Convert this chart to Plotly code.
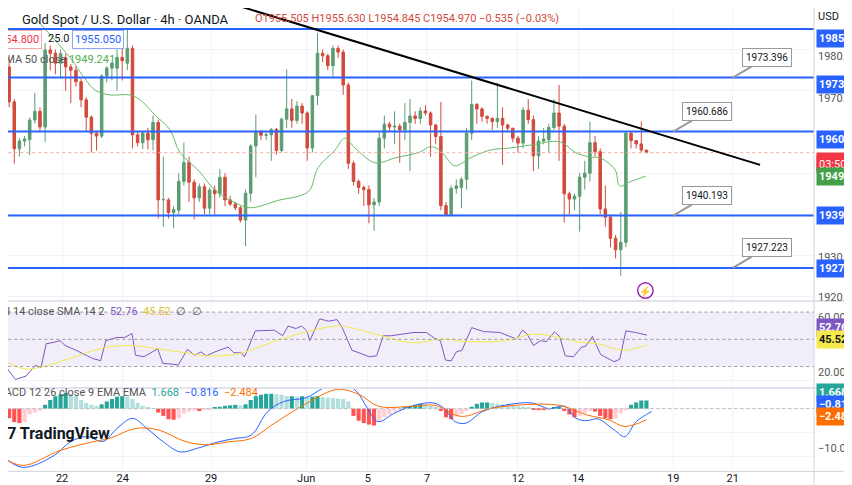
import plotly.graph_objects as go

ohlc = [
(1980.6,1981.5,1973.3,1975.8),(1975.8,1978.7,1966,1967.3),(1967.3,1968,1952.3,1955.9),(1955.9,1958.5,1954,1957.8),
(1957.8,1959,1956.5,1958.3),(1958.1,1963.5,1954.4,1962.9),(1962.9,1969.5,1962,1965),(1965,1966,1960,1961.2),
(1961.2,1981.6,1957.6,1979.9),(1979.9,1981,1975,1979.1),(1979.1,1980,1974,1976.7),(1976.7,1980,1973,1979),
(1978,1979,1970,1975.8),(1975.8,1976.5,1967,1975),(1975,1976,1971,1972.2),(1972.2,1973,1966,1967.8),
(1967.8,1968.5,1960,1963.6),(1963.6,1964,1955,1959.7),(1959.7,1960,1955.5,1959),(1959,1974,1958.5,1973.6),
(1973.6,1976,1972,1975.5),(1975.5,1977,1972.5,1976.7),(1975.5,1980,1970,1978.1),(1978.1,1982,1972.5,1977.3),
(1976.7,1985,1975,1980.3),(1980.3,1981,1956,1959.3),(1959.3,1960,1956.5,1957.4),(1957.4,1960,1955.8,1959.7),
(1959.7,1961,1955.8,1958.1),(1958.1,1964,1955.5,1962.3),(1962.3,1963,1939,1943.5),(1943.5,1954,1937,1943.6),
(1943.5,1944,1939,1940.4),(1940.4,1942,1936.6,1941.2),(1941,1950,1940,1948),(1948,1957.4,1947,1952.6),
(1952.6,1954,1943,1947.8),(1947.8,1948.5,1938.8,1944),(1944,1947.5,1943,1946.7),(1946.7,1947.5,1940,1941.5),
(1941.5,1946.5,1940,1945.9),(1945.9,1947,1940,1945),(1945,1951,1944,1949),(1949,1950,1942,1943.5),
(1943.5,1944.5,1942,1942.5),(1942.5,1943,1941,1941.6),(1941.6,1942,1938,1938.6),(1938.6,1946,1932.3,1945.1),
(1945.1,1957,1943,1956.6),(1956.6,1964.2,1949,1960.1),(1960.1,1960.5,1958,1959.2),(1959.2,1960,1958,1959.3),
(1959.3,1961,1953,1960.6),(1960.6,1961,1954.5,1955.5),(1955.5,1963.5,1955,1963.1),(1963.1,1975.2,1961,1965.6),
(1965.6,1968,1961,1962.8),(1962.8,1967.5,1962,1966.3),(1966.3,1967,1962,1964.6),(1964.6,1965,1953,1956.1),
(1956.1,1969,1955,1968.8),(1968.8,1984,1966.5,1979.1),(1979.1,1980,1977,1978.5),(1978.5,1979,1975,1976.1),
(1976.1,1981,1973,1980.3),(1980.3,1981,1978,1979.4),(1979.4,1980,1969,1971.4),(1971.4,1972,1951,1952.4),
(1952.4,1953,1947,1948),(1948,1948.5,1945,1946.5),(1946.5,1947,1942,1946),(1946,1947,1937.8,1942.3),
(1942.3,1944,1936,1943),(1943,1960,1942,1958.5),(1958.5,1964,1956,1961.9),(1961.9,1962.5,1960,1961.2),
(1961.2,1965,1957,1961.4),(1961.4,1962,1952.5,1960.5),(1960.5,1967,1958,1962.3),(1962.3,1968,1950.5,1963.9),
(1963.9,1965,1962,1963.3),(1963.3,1966,1962,1965.1),(1965.1,1966.5,1964,1964.6),(1964.6,1965,1954,1961.7),
(1961.7,1962,1957,1958.9),(1958.9,1967.3,1941,1942.1),(1942.1,1943,1939.5,1939.9),(1939.9,1947,1939.5,1946.3),
(1946.3,1948.5,1945,1946.9),(1946.5,1949,1941.5,1948.5),(1948.5,1961,1946,1959.7),(1959.7,1972.5,1958,1966.7),
(1966.7,1967,1962,1965.6),(1965.6,1966,1962.5,1963.8),(1963.8,1964,1962,1963.3),(1963.3,1963.5,1960.5,1962.5),
(1962.5,1972,1961,1963.3),(1963.3,1966,1952,1961.7),(1961.7,1962,1960,1960.9),(1960.9,1961,1957.5,1958.5),
(1958.5,1959,1955,1957.3),(1957.3,1966,1956,1965.3),(1965.3,1968,1962,1963),(1963,1964,1950.5,1954.2),
(1954.2,1959,1951,1957.8),(1957.8,1961,1957,1958.3),(1958.1,1962,1955,1961.1),(1961.1,1968,1960.5,1964.6),
(1964.6,1971.4,1953,1961.4),(1961.4,1962,1938,1945),(1945,1945.5,1940,1943.7),(1943.7,1945,1941,1944.4),
(1944.4,1950,1935.8,1949),(1949,1953,1946,1950),(1950,1962.5,1948,1957.4),(1957.4,1959,1954,1955.2),
(1955.2,1956,1940,1941.3),(1941.3,1947,1937,1939.3),(1939.3,1940,1932,1934.2),(1934.2,1935,1929.3,1931.4),
(1931.4,1940.6,1925,1933.2),(1933.2,1960,1932,1959.7),(1959.7,1960,1956,1957.9),(1957.9,1958,1956,1957.1),
(1957.1,1962.5,1955,1955.6),(1955.6,1955.6,1954.8,1955.0)]

ema_x = [6.4,13.2,14.8,17.7,20.6,24.5,26.5,29.4,32.3,34.2,38.1,41,45,47.9,53.7,57.6,59.5,61.1,64.4,66.3,68.3,72.2,76.1,80.9,82.9,84.8,87.7,90.7,94.6,98.4,102.3,108.2,111.1,114,116,118.9,119.8,121.8,124.9]
ema_y = [1987.2,1977.5,1974.6,1970.2,1969,1969,1967.8,1964.1,1960.5,1955.1,1950.3,1945.9,1942.8,1941.6,1943.5,1944.5,1945.9,1951.3,1955.6,1958.5,1956.1,1952.5,1953.7,1955.1,1956.4,1955.6,1951.8,1953.7,1955.6,1956.1,1956.8,1957.6,1955.1,1953.9,1953.7,1950.8,1946.9,1947.9,1949.3]

rsi_x = [-0.8,2.2,4.3,6.1,7.2,8.2,9.8,10.9,11.9,14,17.2,18.8,19.8,22,23.5,24.9,25.6,27.2,29.9,30.9,32.8,33.9,35.7,37.1,38.3,39.4,41,42,43.6,44.7,46.2,46.8,48.9,52.6,54.2,55.3,56.8,57.9,58.9,59.5,61.4,63.2,64.8,65.8,67.7,69.5,71.1,72.5,73.8,75.3,78,79.6,82.2,83.8,84.9,85.9,87,88,89.1,91,93.3,96.5,98.1,99.7,100.9,101.8,103,104.4,105.5,107.1,108.1,109.2,110.8,112.4,113.2,114.5,116.1,118.7,119.8,121,122.9,125.1]
rsi_v = [36,20.5,23,31,29,46.7,47.9,49,45.5,42,36,34.3,49,51.4,51.4,54.3,38.3,37.2,43,32.4,31.7,31.2,42.6,38.3,40.7,37.9,40.7,42,44.3,40.2,40,37.2,56.2,56.7,52.6,59.8,57.9,59.8,56.2,49,65,63.3,64.5,58.6,42,39.5,37.2,37.9,52.6,52.6,53.8,55,55,50.7,49,34.8,34.1,40.7,42,58.6,55.7,55,52.6,50.2,56.7,53.8,45.5,49,48.3,55.5,52.1,37.9,37.2,44.3,45,52.1,38.8,33.6,35.3,56.2,55,53.1]
sma_x = [-0.8,4,7.7,12.9,19.3,24.6,29.9,35.2,39.4,45.7,52.1,58.4,65.3,71.1,79.6,84.9,90.2,97.6,102.8,107.1,111.3,115.5,120.8,125.1]
sma_v = [36,28.3,30,36,43.6,45.5,43,40.2,37.9,39.5,47.9,55,59.8,55,47.4,50.2,48.3,49,53.8,52.1,48.3,46.7,42,46]

macd_x = [-0.8,3.6,9.8,12.9,16.1,19.3,22,25,27.8,31,34.3,37.4,41.7,44.9,48.1,51.3,54.5,58.8,62,65.3,68.5,70.7,72.8,76,80.3,83.5,85.6,87.8,89.9,93.1,97.4,102.7,106,109.1,111.3,113.4,115.5,118.7,120.8,123,126]
macd_v = [-9.4,-12.2,-9.7,-6.9,-5.8,-6.8,-4.1,-2,-4.1,-6.9,-9,-8.3,-6.9,-6.2,-5.5,-0.6,1.5,2.3,4.2,5.4,3.7,0.1,-2.7,-0.9,0.8,1.2,0.1,-2.7,-3,-0.6,0.7,1.2,0,0.5,-2,-2.5,-2.1,-4.4,-5.8,-2.7,-0.6]
sig_x = [-0.8,3.6,10.9,17.2,20.4,25.7,30,35.2,39.4,43.6,48.1,52.1,58.4,64.8,69,72.9,79.6,83.8,89,94.4,100.7,108.1,113.4,117.6,120.8,125]
sig_v = [-9.7,-11.8,-8.7,-6.9,-6.2,-4.1,-4.4,-6.8,-7.5,-6.9,-6.2,-3.4,0.8,4,3,0.5,0.5,0.7,-1.6,0,0.8,0.7,-1.3,-2.3,-3.7,-2.3]
hist = [-1.5,-2,-2.8,-3,-2.8,-1.2,-0.8,-0.4,0.8,1.8,2.6,3.0,3.3,3.0,2.6,1.8,1.2,0.8,0.6,0.9,1.5,2.0,2.5,2.6,2.5,2.0,1.2,0.6,0.3,0.1,
-0.8,-1.5,-2.2,-2.3,-2.0,-1.0,-0.6,-0.4,-0.5,-0.3,-0.1,0.2,0.4,0.6,0.7,0.8,0.7,0.9,1.8,2.6,2.9,3.1,3.1,3.0,2.9,2.6,2.6,2.5,2.6,2.4,
2.5,2.6,2.4,2.3,2.2,2.1,2.0,1.5,-1.5,-2.5,-3.0,-3.3,-3.5,-2.5,-1.8,-1.2,-0.6,-0.2,0.3,0.6,0.8,1.0,0.9,0.6,0.2,-0.5,-1.8,-2.2,-1.6,-1.1,
-0.5,0.4,1.0,1.3,1.3,1.2,1.0,0.9,0.8,0.6,0.5,0.4,0.2,-0.2,-0.3,-0.3,-0.1,0.3,0.3,-0.5,-1.2,-1.8,-1.5,-0.9,-0.5,-0.6,-1.5,-2.0,-2.2,-2.1,
-1.0,-0.3,0.8,1.3,1.7,1.7]

date_pos = [11.3,23.1,40.3,58.8,70.8,82.3,100,111.7,130.2,141.8]
date_lbl = ["22","24","29","Jun","5","7","12","14","19","21"]
levels = [1985.0,1973.2,1960.1,1939.7,1927.0]
trend_x = [42,147.1]; trend_y = [1992,1952]

idx = list(range(len(ohlc)))
o=[r[0] for r in ohlc]; h=[max(r) for r in ohlc]; l=[min(r) for r in ohlc]; c=[r[3] for r in ohlc]

PH = 462.0; PW = 806.0
def py(ref_y): return 1-(ref_y-8)/PH
def pxr(ref_x): return (ref_x-8)/PW

fig = go.Figure()
fig.add_trace(go.Candlestick(x=idx, open=o, high=h, low=l, close=c, xaxis="x", yaxis="y",
    increasing=dict(line=dict(color="#5c9c72", width=1), fillcolor="#5c9c72"),
    decreasing=dict(line=dict(color="#d24a3c", width=1), fillcolor="#d24a3c"), whiskerwidth=0, showlegend=False))
fig.add_trace(go.Scatter(x=ema_x, y=ema_y, mode="lines", line=dict(color="#66bb6a", width=1, shape="spline"), yaxis="y", showlegend=False))
for lv in levels:
    fig.add_trace(go.Scatter(x=[-5,170], y=[lv,lv], mode="lines", line=dict(color="#2962ff", width=2), showlegend=False))
fig.add_trace(go.Scatter(x=[-5,170], y=[1954.97,1954.97], mode="lines", line=dict(color="#f7a8a0", width=1, dash="dot"), showlegend=False))
fig.add_trace(go.Scatter(x=trend_x, y=trend_y, mode="lines", line=dict(color="black", width=2), showlegend=False))

fig.add_trace(go.Scatter(x=rsi_x, y=rsi_v, mode="lines", line=dict(color="#7e57c2", width=1), xaxis="x", yaxis="y2", showlegend=False))
fig.add_trace(go.Scatter(x=sma_x, y=sma_v, mode="lines", line=dict(color="#f5e94b", width=1, shape="spline"), yaxis="y2", showlegend=False))

hc=[]
for i,v in enumerate(hist):
    p = hist[i-1] if i>0 else v
    if v>=0: hc.append("#26a69a" if v>=p else "#b2dfdb")
    else: hc.append("#ff5252" if v<=p else "#ffcdd2")
fig.add_trace(go.Bar(x=idx, y=hist, marker=dict(color=hc, line=dict(width=0)), width=0.8, yaxis="y3", showlegend=False))
fig.add_trace(go.Scatter(x=macd_x, y=macd_v, mode="lines", line=dict(color="#2962ff", width=1, shape="spline"), yaxis="y3", showlegend=False))
fig.add_trace(go.Scatter(x=sig_x, y=sig_v, mode="lines", line=dict(color="#ff6d00", width=1, shape="spline"), yaxis="y3", showlegend=False))

shapes=[dict(type="rect", xref="x", yref="y2", x0=-5, x1=170, y0=30, y1=70, fillcolor="rgba(126,87,194,0.1)", line=dict(width=0), layer="below")]
for v in [70,50,30]:
    shapes.append(dict(type="line", xref="x", yref="y2", x0=-5, x1=170, y0=v, y1=v, line=dict(color="#999", width=1, dash="dot")))
shapes.append(dict(type="line", xref="x", yref="y3", x0=-5, x1=170, y0=0, y1=0, line=dict(color="#bbb", width=1, dash="dot")))
for ry in [301, 388]:
    shapes.append(dict(type="line", xref="paper", yref="paper", x0=0, x1=1.05, y0=py(ry), y1=py(ry), line=dict(color="#e0e3eb", width=2)))
shapes.append(dict(type="line", xref="paper", yref="paper", x0=1, x1=1, y0=-0.05, y1=1, line=dict(color="#d1d4dc", width=1)))
shapes.append(dict(type="line", xref="paper", yref="paper", x0=0, x1=1.05, y0=-0.003, y1=-0.003, line=dict(color="#d1d4dc", width=1)))

ann=[]
def A(x,y,t,**k):
    d=dict(x=x,y=y,text=t,xref="paper",yref="paper",showarrow=False,font=dict(family="Roboto",size=11,color="#131722"),xanchor="left")
    d.update(k); ann.append(d)
A(pxr(20),py(10),"Gold Spot / U.S. Dollar · 4h · OANDA",font=dict(family="Roboto",size=13,color="#131722"))
A(pxr(253),py(10),"O1955.505 H1955.630 L1954.845 C1954.970 −0.535 (−0.03%)",font=dict(family="Roboto",size=11,color="#d24a3c"))
A(pxr(-10),py(30),"1954.800",bgcolor="white",bordercolor="#f7a8a0",borderpad=2,font=dict(family="Roboto",size=11,color="#f23645"))
A(pxr(46),py(30),"25.0")
A(pxr(72),py(30),"1955.050",bgcolor="white",bordercolor="#90a4f8",borderpad=2,font=dict(family="Roboto",size=11,color="#2962ff"))
A(pxr(-3),py(51),"EMA 50 close <span style='color:#4caf50'>1949.241</span>",font=dict(family="Roboto",size=11,color="#555"))
A(pxr(-8),py(320),"RSI 14 close SMA 14 2  <span style='color:#7e57c2'>52.76</span>  <span style='color:#e0c02a'>45.52</span>  ∅  ∅",font=dict(family="Roboto",size=11,color="#555"))
A(pxr(-7),py(401),"MACD 12 26 close 9 EMA EMA  <span style='color:#26a69a'>1.668</span>  <span style='color:#2962ff'>−0.816</span>  <span style='color:#ff6d00'>−2.484</span>",font=dict(family="Roboto",size=11,color="#555"))
A(pxr(-2),py(445),"<b>⁄7 TradingView</b>",font=dict(family="Roboto",size=16,color="#131722"))

def R(ypx,t,bg=None,fc="#131722"):
    kw=dict(font=dict(family="Roboto",size=11,color=fc))
    if bg: kw.update(bgcolor=bg, borderpad=2)
    A(1.003,py(ypx),t,**kw)
R(8,"USD ⌄")
for ypx,t in [(48,"1980.000"),(90,"1970.000"),(257,"1930.000"),(297,"1920.000"),(326,"60.00"),(381,"20.00"),(457,"−10.00")]:
    R(ypx,t,fc="#555")
for ypx,t,bg in [(29,"<b>1985.000</b>","#2962ff"),(75,"<b>1973.200</b>","#2962ff"),(130,"<b>1960.100</b>","#2962ff"),
                 (152,"<b>1954.970</b>","#f23645"),(164,"03:50:12","#f23645"),(176,"<b>1949.241</b>","#43a047"),
                 (215,"<b>1939.700</b>","#2962ff"),(268,"<b>1927.000</b>","#2962ff"),
                 (337,"<b>52.76</b>","#7e57c2"),(349,"<b>45.52</b>","#f5e94b"),(402,"<b>1.668</b>","#26a69a"),
                 (414,"<b>−0.816</b>","#2962ff"),(426,"<b>−2.484</b>","#ff6d00")]:
    R(ypx,t,bg=bg,fc="#131722" if bg=="#f5e94b" else "white")

for px_,pv,t in [(141.8,1973.2,"1973.396"),(130.2,1960.1,"1960.686"),(130.2,1939.7,"1940.193"),(141.8,1927.0,"1927.223")]:
    ann.append(dict(x=px_,y=pv,xref="x",yref="y",text=t,showarrow=True,ax=34,ay=-20,arrowhead=0,arrowcolor="#999",arrowwidth=2,
        bgcolor="white",bordercolor="#999",borderwidth=1,borderpad=3,font=dict(family="Roboto",size=10,color="#131722")))
ann.append(dict(x=124.8,y=1921.5,xref="x",yref="y",text="⚡",showarrow=False,font=dict(size=10,color="#9c27b0")))
shapes.append(dict(type="circle", xref="x", yref="y", x0=123.3, x1=126.3, y0=1919.6, y1=1923.4, line=dict(color="#9c27b0", width=1.5)))

xr=[0.78,157.6]
fig.update_layout(width=844,height=477,margin=dict(l=0,r=38,t=0,b=15,autoexpand=False),paper_bgcolor="white",plot_bgcolor="white",
    xaxis=dict(range=xr,domain=[0,1],tickvals=date_pos,ticktext=date_lbl,showgrid=True,gridcolor="#f0f3fa",automargin=False,
        rangeslider=dict(visible=False),tickfont=dict(family="Roboto",size=11,color="#131722"),ticks="",anchor="y3",showline=False,zeroline=False),
    yaxis=dict(domain=[py(300),1],range=[1919.2,1990.1],tickvals=[1920,1930,1940,1950,1960,1970,1980],showticklabels=False,gridcolor="#f0f3fa",zeroline=False,automargin=False),
    yaxis2=dict(domain=[py(387),py(302)],range=[15,77.4],tickvals=[20,40,60],showticklabels=False,gridcolor="#f0f3fa",zeroline=False,automargin=False),
    yaxis3=dict(domain=[0,py(388)],range=[-12.75,4.3],tickvals=[-10,-5,0],showticklabels=False,gridcolor="#f0f3fa",zeroline=False,automargin=False),
    shapes=shapes,annotations=ann,bargap=0.2)
fig.update_traces(xaxis="x")
fig.write_html("out.html")
